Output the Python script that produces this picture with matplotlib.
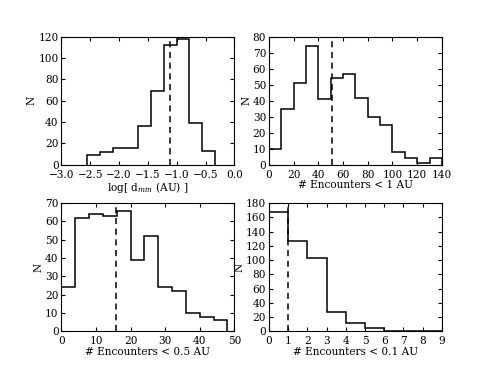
import matplotlib
matplotlib.use('Agg')
import matplotlib.pyplot as plt

plt.rcParams['font.family'] = ['DejaVu Serif']
plt.rcParams['mathtext.fontset'] = 'dejavuserif'
plt.rcParams['font.size'] = 7.6
plt.rcParams['xtick.direction'] = 'in'
plt.rcParams['ytick.direction'] = 'in'
plt.rcParams['xtick.top'] = True
plt.rcParams['ytick.right'] = True

# log minimum distance
dmin_edges = [-2.547, -2.326, -2.105, -1.884, -1.663, -1.442, -1.221, -1.000, -0.780, -0.559, -0.338]
dmin_counts = [9, 12, 16, 16, 36, 69, 112, 118, 39, 13]
dmin_median = -1.12

# encounters < 1 AU
enc1_edges = [0, 10, 20, 30, 40, 50, 60, 70, 80, 90, 100, 110, 120, 130, 140]
enc1_counts = [10, 35, 51, 74, 41, 54, 57, 42, 30, 25, 8, 4, 1, 4]
enc1_median = 51

# encounters < 0.5 AU
enc05_edges = [0, 4, 8, 12, 16, 20, 24, 28, 32, 36, 40, 44, 48]
enc05_counts = [24, 62, 64, 63, 66, 39, 52, 24, 22, 10, 8, 6]
enc05_median = 15.8

# encounters < 0.1 AU
enc01_edges = [0, 1, 2, 3, 4, 5, 6, 7, 8, 9]
enc01_counts = [168, 127, 103, 27, 11, 4, 0, 0, 0]
enc01_median = 1

fig, axes = plt.subplots(2, 2, figsize=(4.91, 3.68), dpi=100)
fig.subplots_adjust(left=0.125, right=0.9, bottom=0.1, top=0.9, wspace=0.2, hspace=0.3)

panels = [
    (axes[0, 0], dmin_edges, dmin_counts, dmin_median, (-3.0, 0.0), (0, 120), 20,
     'log[ d$_{min}$ (AU) ]'),
    (axes[0, 1], enc1_edges, enc1_counts, enc1_median, (0, 140), (0, 80), 10,
     '# Encounters < 1 AU'),
    (axes[1, 0], enc05_edges, enc05_counts, enc05_median, (0, 50), (0, 70), 10,
     '# Encounters < 0.5 AU'),
    (axes[1, 1], enc01_edges, enc01_counts, enc01_median, (0, 9), (0, 180), 20,
     '# Encounters < 0.1 AU'),
]

for ax, edges, counts, med, xlim, ylim, ystep, xlabel in panels:
    ax.stairs(counts, edges, color='k', linewidth=1.1, baseline=0)
    ax.axvline(med, color='k', linestyle='--', linewidth=1.1, dashes=(4, 3))
    ax.set_xlim(*xlim)
    ax.set_ylim(*ylim)
    ax.set_yticks(range(ylim[0], ylim[1] + 1, ystep))
    ax.set_xlabel(xlabel, labelpad=0.3)
    ax.set_ylabel('N', labelpad=1)
    ax.tick_params(length=3)
    ax.tick_params(axis='x', pad=3.6)
    ax.tick_params(axis='y', pad=2)

axes[0, 0].set_xticks([-3.0, -2.5, -2.0, -1.5, -1.0, -0.5, 0.0])
axes[0, 1].set_xticks(range(0, 141, 20))
axes[1, 0].set_xticks(range(0, 51, 10))
axes[1, 1].set_xticks(range(0, 10))

plt.savefig('out.png')
